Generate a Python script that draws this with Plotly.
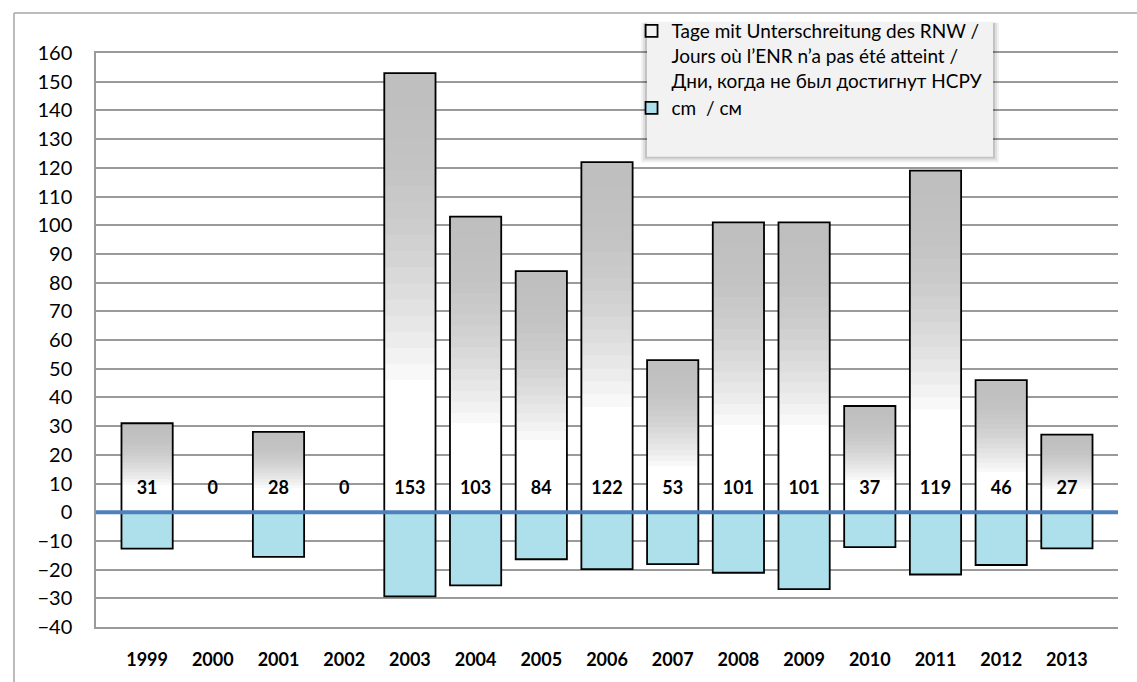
import numpy as np
import plotly.graph_objects as go

# ---------------------------------------------------------------------------
# Data
# ---------------------------------------------------------------------------

YEARS = ["1999", "2000", "2001", "2002", "2003", "2004", "2005", "2006",
         "2007", "2008", "2009", "2010", "2011", "2012", "2013"]

DAYS_BELOW = [31, 0, 28, 0, 153, 103, 84, 122, 53, 101, 101, 37, 119, 46, 27]

CM_BELOW = [-12.7, 0, -15.6, 0, -29.3, -25.5, -16.4, -19.8, -18.1, -21.1,
            -26.8, -12.2, -21.7, -18.4, -12.6]

Y_TICKS = list(range(-40, 161, 10))

NAME_DAYS = ("Tage mit Unterschreitung des RNW /<br>"
             "Jours où l’ENR n’a pas été atteint /<br>"
             "Дни, когда не был достигнут НСРУ")
NAME_CM = "cm  / см"

# ---------------------------------------------------------------------------
# Style
# ---------------------------------------------------------------------------

FONT = "Lato, 'Open Sans', sans-serif"
GRID = "#9a9a9a"
ZERO_BLUE = "#4f81bd"
WATER = "#ade0ea"
BAR_W = 0.78
LABEL_Y = 8

# plot-area size in px, used to place paper-space decorations
PW, PH = 1022, 587

# gray-to-white layers used to fake Excel's vertical gradient fill
fracs = np.linspace(1.0, 0.3, 20)


def _gray(f):
    s = (f - 0.3) / 0.7          # 1 at top, 0 at the white part
    t = 1 - (1 - s) ** 2
    v = int(round(255 - (255 - 191) * t))
    return f"rgb({v},{v},{v})"


fig = go.Figure()

vals = np.array(DAYS_BELOW, dtype=float)
for f in fracs:
    fig.add_trace(go.Bar(
        x=YEARS, y=vals * f, width=BAR_W,
        marker=dict(color=_gray(f), line=dict(width=0)),
        showlegend=False, hoverinfo="skip",
    ))
fig.add_trace(go.Bar(
    x=YEARS, y=vals * 0.3, width=BAR_W,
    marker=dict(color="white", line=dict(width=0)),
    showlegend=False, hoverinfo="skip",
))

# outline of the day bars (also the legend entry)
fig.add_trace(go.Bar(
    x=YEARS, y=DAYS_BELOW, width=BAR_W, name=NAME_DAYS,
    marker=dict(color="rgba(255,255,255,0.01)", line=dict(color="black", width=1.8)),
))

# negative cm bars
fig.add_trace(go.Bar(
    x=YEARS, y=CM_BELOW, width=BAR_W, name=NAME_CM,
    marker=dict(color=WATER, line=dict(color="black", width=1.8)),
))

# data labels near the base
fig.add_trace(go.Scatter(
    x=YEARS, y=[LABEL_Y] * len(YEARS), mode="text",
    text=[str(v) for v in DAYS_BELOW],
    textfont=dict(family=FONT, size=18, color="black", weight="bold"),
    showlegend=False, hoverinfo="skip",
))

frame_top = 1 + 41 / PH
frame_left = -82 / PW
shapes = [
    # zero line
    dict(type="line", xref="paper", yref="y", x0=0, x1=1, y0=0, y1=0,
         line=dict(color=ZERO_BLUE, width=4), layer="above"),
    # outer chart frame (only top and left visible)
    dict(type="line", xref="paper", yref="paper", x0=frame_left, x1=1.2,
         y0=frame_top, y1=frame_top, line=dict(color="#a6a6a6", width=1.5)),
    dict(type="line", xref="paper", yref="paper", x0=frame_left, x1=frame_left,
         y0=-0.3, y1=frame_top, line=dict(color="#a6a6a6", width=1.5)),
]

# legend box with soft shadow
lx0, lx1 = 551 / PW, 897 / PW
ly1, ly0 = 1 + 32 / PH, 1 - 106 / PH
for k, a in [(6, 0.05), (4, 0.08), (2, 0.12)]:
    shapes.append(dict(type="rect", xref="paper", yref="paper",
                       x0=lx0 - 0.001 * k, x1=lx1 + k / PW,
                       y0=ly0 - k / PH, y1=ly1 - 0.002,
                       fillcolor=f"rgba(0,0,0,{a})", line=dict(width=0),
                       layer="above"))
shapes.append(dict(type="rect", xref="paper", yref="paper",
                   x0=lx0, x1=lx1, y0=ly0, y1=ly1,
                   fillcolor="#f2f2f2", line=dict(width=0), layer="above"))

fig.update_layout(
    width=1137, height=682,
    barmode="overlay",
    plot_bgcolor="white", paper_bgcolor="white",
    font=dict(family=FONT, color="black"),
    margin=dict(l=96, r=19, t=49, b=46),
    xaxis=dict(
        type="category",
        showline=True, mirror=True, linecolor=GRID, linewidth=1.5,
        showgrid=False, ticks="",
        tickfont=dict(family=FONT, size=18, color="black", weight="bold"),
        ticklabelstandoff=16,
    ),
    yaxis=dict(
        range=[-40, 160], tickvals=Y_TICKS,
        showline=True, linecolor=GRID, linewidth=1.5,
        showgrid=True, gridcolor=GRID, gridwidth=1.5,
        zeroline=False, ticks="",
        tickfont=dict(family=FONT, size=20, color="black"),
        ticklabelstandoff=18,
    ),
    legend=dict(
        x=0.524, y=1 + 42 / PH, xanchor="left", yanchor="top",
        bgcolor="rgba(0,0,0,0)", valign="top",
        font=dict(family=FONT, size=19, color="black"),
        tracegroupgap=0,
    ),
    shapes=shapes,
)

fig.write_html(
    "out.html",
    config={"displayModeBar": False},
    post_script=(
        "document.body.style.margin='0';"
        "document.body.style.overflow='hidden';"
    ),
)
